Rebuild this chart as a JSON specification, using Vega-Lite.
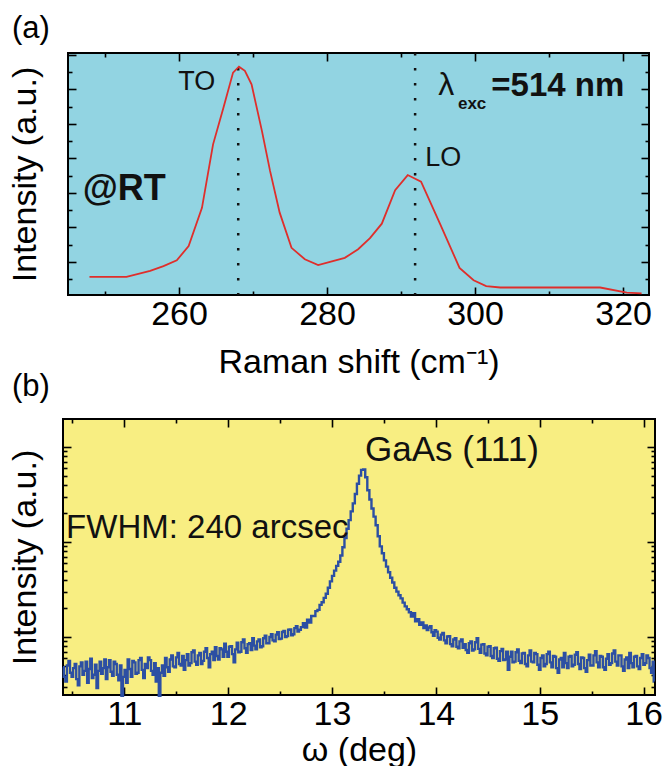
{
  "$schema": "https://vega.github.io/schema/vega-lite/v6.json",
  "background": "white",
  "padding": {"left": 7, "top": 11, "right": 5, "bottom": 0},
  "spacing": -10,
  "config": {
    "font": "Liberation Sans",
    "axis": {"domain": false, "grid": false, "tickColor": "#000", "tickWidth": 1.6, "labelColor": "#000", "titleColor": "#000", "labelFont": "Liberation Sans", "titleFont": "Liberation Sans", "labelFontSize": 34, "titleFontSize": 34, "titleFontWeight": "normal", "labelFlush": false, "labelOverlap": false},
    "title": {"font": "Liberation Sans", "fontWeight": "normal", "fontSize": 31, "color": "#000", "anchor": "start"}
  },
  "datasets": {
    "raman": [
      {"s": 247.9, "i": 0.57}, {"s": 252.9, "i": 0.57}, {"s": 256.1, "i": 0.74}, {"s": 257.9, "i": 0.88},
      {"s": 259.7, "i": 1.05}, {"s": 261.3, "i": 1.46}, {"s": 263.1, "i": 2.57}, {"s": 264.6, "i": 4.41},
      {"s": 266.0, "i": 5.47}, {"s": 267.3, "i": 6.49}, {"s": 268.1, "i": 6.66}, {"s": 268.9, "i": 6.54},
      {"s": 269.8, "i": 6.15}, {"s": 271.2, "i": 4.80}, {"s": 272.3, "i": 3.64}, {"s": 273.6, "i": 2.43},
      {"s": 275.2, "i": 1.41}, {"s": 277.0, "i": 1.08}, {"s": 278.8, "i": 0.91}, {"s": 280.4, "i": 1.00},
      {"s": 282.4, "i": 1.12}, {"s": 284.2, "i": 1.37}, {"s": 285.8, "i": 1.69}, {"s": 287.4, "i": 2.11},
      {"s": 289.2, "i": 3.08}, {"s": 290.9, "i": 3.52}, {"s": 292.7, "i": 3.33}, {"s": 295.3, "i": 2.09},
      {"s": 297.9, "i": 0.83}, {"s": 299.8, "i": 0.47}, {"s": 301.5, "i": 0.30}, {"s": 303.4, "i": 0.26},
      {"s": 316.9, "i": 0.26}, {"s": 320.5, "i": 0.11}, {"s": 322.5, "i": 0.09}
    ],
    "xrd": [
      {"w": 10.41, "c": 48}, {"w": 10.425, "c": 38}, {"w": 10.44, "c": 34}, {"w": 10.455, "c": 50},
      {"w": 10.47, "c": 56}, {"w": 10.485, "c": 42}, {"w": 10.50, "c": 38}, {"w": 10.515, "c": 47},
      {"w": 10.53, "c": 52}, {"w": 10.545, "c": 36}, {"w": 10.56, "c": 31}, {"w": 10.575, "c": 49},
      {"w": 10.59, "c": 54}, {"w": 10.605, "c": 40}, {"w": 10.62, "c": 44}, {"w": 10.635, "c": 55},
      {"w": 10.65, "c": 33}, {"w": 10.665, "c": 46}, {"w": 10.68, "c": 59}, {"w": 10.695, "c": 37},
      {"w": 10.71, "c": 40}, {"w": 10.725, "c": 51}, {"w": 10.74, "c": 29}, {"w": 10.755, "c": 44},
      {"w": 10.77, "c": 55}, {"w": 10.785, "c": 41}, {"w": 10.80, "c": 47}, {"w": 10.815, "c": 58},
      {"w": 10.83, "c": 36}, {"w": 10.845, "c": 48}, {"w": 10.86, "c": 57}, {"w": 10.875, "c": 43},
      {"w": 10.89, "c": 39}, {"w": 10.905, "c": 55}, {"w": 10.92, "c": 52}, {"w": 10.935, "c": 40},
      {"w": 10.95, "c": 35}, {"w": 10.965, "c": 50}, {"w": 10.98, "c": 24}, {"w": 10.995, "c": 38},
      {"w": 11.01, "c": 45}, {"w": 11.025, "c": 33}, {"w": 11.04, "c": 58}, {"w": 11.055, "c": 46},
      {"w": 11.07, "c": 38}, {"w": 11.085, "c": 56}, {"w": 11.10, "c": 54}, {"w": 11.115, "c": 41},
      {"w": 11.13, "c": 42}, {"w": 11.145, "c": 57}, {"w": 11.16, "c": 60}, {"w": 11.175, "c": 45},
      {"w": 11.19, "c": 37}, {"w": 11.205, "c": 52}, {"w": 11.22, "c": 47}, {"w": 11.235, "c": 61},
      {"w": 11.25, "c": 57}, {"w": 11.265, "c": 44}, {"w": 11.28, "c": 40}, {"w": 11.295, "c": 53},
      {"w": 11.31, "c": 34}, {"w": 11.325, "c": 47}, {"w": 11.34, "c": 24}, {"w": 11.355, "c": 42},
      {"w": 11.37, "c": 50}, {"w": 11.385, "c": 39}, {"w": 11.40, "c": 60}, {"w": 11.415, "c": 48},
      {"w": 11.43, "c": 43}, {"w": 11.445, "c": 58}, {"w": 11.46, "c": 64}, {"w": 11.475, "c": 49},
      {"w": 11.49, "c": 48}, {"w": 11.505, "c": 61}, {"w": 11.52, "c": 68}, {"w": 11.535, "c": 52},
      {"w": 11.55, "c": 50}, {"w": 11.565, "c": 63}, {"w": 11.58, "c": 45}, {"w": 11.595, "c": 57},
      {"w": 11.61, "c": 66}, {"w": 11.625, "c": 50}, {"w": 11.64, "c": 53}, {"w": 11.655, "c": 69},
      {"w": 11.67, "c": 72}, {"w": 11.685, "c": 55}, {"w": 11.70, "c": 51}, {"w": 11.715, "c": 64},
      {"w": 11.73, "c": 68}, {"w": 11.745, "c": 52}, {"w": 11.76, "c": 56}, {"w": 11.775, "c": 70},
      {"w": 11.79, "c": 76}, {"w": 11.805, "c": 60}, {"w": 11.82, "c": 48}, {"w": 11.835, "c": 66},
      {"w": 11.85, "c": 70}, {"w": 11.865, "c": 57}, {"w": 11.88, "c": 78}, {"w": 11.895, "c": 63},
      {"w": 11.91, "c": 58}, {"w": 11.925, "c": 76}, {"w": 11.94, "c": 74}, {"w": 11.955, "c": 62},
      {"w": 11.97, "c": 85}, {"w": 11.985, "c": 70}, {"w": 12.00, "c": 62}, {"w": 12.015, "c": 79},
      {"w": 12.03, "c": 80}, {"w": 12.045, "c": 66}, {"w": 12.06, "c": 54}, {"w": 12.075, "c": 74},
      {"w": 12.09, "c": 87}, {"w": 12.105, "c": 69}, {"w": 12.12, "c": 70}, {"w": 12.135, "c": 88},
      {"w": 12.15, "c": 94}, {"w": 12.165, "c": 76}, {"w": 12.18, "c": 68}, {"w": 12.195, "c": 84},
      {"w": 12.21, "c": 86}, {"w": 12.225, "c": 73}, {"w": 12.24, "c": 97}, {"w": 12.255, "c": 81},
      {"w": 12.27, "c": 74}, {"w": 12.285, "c": 90}, {"w": 12.30, "c": 94}, {"w": 12.315, "c": 78},
      {"w": 12.33, "c": 80}, {"w": 12.345, "c": 97}, {"w": 12.36, "c": 103}, {"w": 12.375, "c": 86},
      {"w": 12.39, "c": 86}, {"w": 12.405, "c": 100}, {"w": 12.42, "c": 107}, {"w": 12.435, "c": 92},
      {"w": 12.45, "c": 90}, {"w": 12.465, "c": 106}, {"w": 12.48, "c": 112}, {"w": 12.495, "c": 95},
      {"w": 12.51, "c": 96}, {"w": 12.525, "c": 113}, {"w": 12.54, "c": 116}, {"w": 12.555, "c": 100},
      {"w": 12.57, "c": 102}, {"w": 12.585, "c": 119}, {"w": 12.60, "c": 120}, {"w": 12.615, "c": 104},
      {"w": 12.63, "c": 107}, {"w": 12.645, "c": 124}, {"w": 12.66, "c": 130}, {"w": 12.675, "c": 114},
      {"w": 12.69, "c": 119}, {"w": 12.71, "c": 127}, {"w": 12.73, "c": 140}, {"w": 12.75, "c": 126},
      {"w": 12.77, "c": 152}, {"w": 12.79, "c": 142}, {"w": 12.81, "c": 167}, {"w": 12.83, "c": 166},
      {"w": 12.85, "c": 187}, {"w": 12.87, "c": 193}, {"w": 12.89, "c": 218}, {"w": 12.91, "c": 232},
      {"w": 12.93, "c": 258}, {"w": 12.95, "c": 285}, {"w": 12.97, "c": 330}, {"w": 12.99, "c": 385},
      {"w": 13.01, "c": 440}, {"w": 13.03, "c": 500}, {"w": 13.05, "c": 560}, {"w": 13.07, "c": 620},
      {"w": 13.09, "c": 720}, {"w": 13.11, "c": 880}, {"w": 13.13, "c": 1100}, {"w": 13.15, "c": 1380},
      {"w": 13.17, "c": 1700}, {"w": 13.19, "c": 2100}, {"w": 13.21, "c": 2550}, {"w": 13.23, "c": 3200},
      {"w": 13.25, "c": 4100}, {"w": 13.27, "c": 5000}, {"w": 13.29, "c": 5750}, {"w": 13.31, "c": 5800},
      {"w": 13.33, "c": 4800}, {"w": 13.35, "c": 3500}, {"w": 13.37, "c": 2800}, {"w": 13.39, "c": 2250},
      {"w": 13.41, "c": 1850}, {"w": 13.43, "c": 1500}, {"w": 13.45, "c": 1150}, {"w": 13.47, "c": 900},
      {"w": 13.49, "c": 760}, {"w": 13.51, "c": 640}, {"w": 13.53, "c": 550}, {"w": 13.55, "c": 480},
      {"w": 13.57, "c": 420}, {"w": 13.59, "c": 375}, {"w": 13.61, "c": 330}, {"w": 13.63, "c": 300},
      {"w": 13.65, "c": 275}, {"w": 13.67, "c": 255}, {"w": 13.69, "c": 230}, {"w": 13.71, "c": 210},
      {"w": 13.73, "c": 196}, {"w": 13.75, "c": 182}, {"w": 13.77, "c": 164}, {"w": 13.79, "c": 178},
      {"w": 13.81, "c": 146}, {"w": 13.83, "c": 154}, {"w": 13.85, "c": 134}, {"w": 13.87, "c": 142},
      {"w": 13.89, "c": 124}, {"w": 13.905, "c": 132}, {"w": 13.92, "c": 118}, {"w": 13.935, "c": 126},
      {"w": 13.95, "c": 130}, {"w": 13.965, "c": 112}, {"w": 13.98, "c": 103}, {"w": 13.995, "c": 118},
      {"w": 14.01, "c": 114}, {"w": 14.025, "c": 98}, {"w": 14.04, "c": 94}, {"w": 14.055, "c": 106},
      {"w": 14.07, "c": 110}, {"w": 14.085, "c": 92}, {"w": 14.10, "c": 86}, {"w": 14.115, "c": 101},
      {"w": 14.13, "c": 102}, {"w": 14.145, "c": 84}, {"w": 14.16, "c": 80}, {"w": 14.175, "c": 94},
      {"w": 14.19, "c": 97}, {"w": 14.205, "c": 79}, {"w": 14.22, "c": 76}, {"w": 14.235, "c": 90},
      {"w": 14.25, "c": 94}, {"w": 14.265, "c": 77}, {"w": 14.28, "c": 84}, {"w": 14.295, "c": 73},
      {"w": 14.31, "c": 68}, {"w": 14.325, "c": 86}, {"w": 14.34, "c": 90}, {"w": 14.355, "c": 72},
      {"w": 14.37, "c": 74}, {"w": 14.385, "c": 88}, {"w": 14.40, "c": 97}, {"w": 14.415, "c": 75},
      {"w": 14.43, "c": 68}, {"w": 14.445, "c": 83}, {"w": 14.46, "c": 84}, {"w": 14.475, "c": 67},
      {"w": 14.49, "c": 64}, {"w": 14.505, "c": 79}, {"w": 14.52, "c": 80}, {"w": 14.535, "c": 63},
      {"w": 14.55, "c": 60}, {"w": 14.565, "c": 76}, {"w": 14.58, "c": 77}, {"w": 14.595, "c": 59},
      {"w": 14.61, "c": 56}, {"w": 14.625, "c": 71}, {"w": 14.64, "c": 75}, {"w": 14.655, "c": 57},
      {"w": 14.67, "c": 58}, {"w": 14.685, "c": 70}, {"w": 14.70, "c": 45}, {"w": 14.715, "c": 62},
      {"w": 14.73, "c": 70}, {"w": 14.745, "c": 54}, {"w": 14.76, "c": 55}, {"w": 14.775, "c": 69},
      {"w": 14.79, "c": 74}, {"w": 14.805, "c": 56}, {"w": 14.82, "c": 53}, {"w": 14.835, "c": 67},
      {"w": 14.85, "c": 68}, {"w": 14.865, "c": 52}, {"w": 14.88, "c": 49}, {"w": 14.895, "c": 64},
      {"w": 14.91, "c": 72}, {"w": 14.925, "c": 55}, {"w": 14.94, "c": 54}, {"w": 14.955, "c": 68},
      {"w": 14.97, "c": 66}, {"w": 14.985, "c": 51}, {"w": 15.00, "c": 45}, {"w": 15.015, "c": 60},
      {"w": 15.03, "c": 64}, {"w": 15.045, "c": 49}, {"w": 15.06, "c": 52}, {"w": 15.075, "c": 66},
      {"w": 15.09, "c": 70}, {"w": 15.105, "c": 54}, {"w": 15.12, "c": 48}, {"w": 15.135, "c": 63},
      {"w": 15.15, "c": 62}, {"w": 15.165, "c": 47}, {"w": 15.18, "c": 42}, {"w": 15.195, "c": 58},
      {"w": 15.21, "c": 60}, {"w": 15.225, "c": 48}, {"w": 15.24, "c": 68}, {"w": 15.255, "c": 53},
      {"w": 15.27, "c": 47}, {"w": 15.285, "c": 62}, {"w": 15.30, "c": 63}, {"w": 15.315, "c": 49},
      {"w": 15.33, "c": 51}, {"w": 15.345, "c": 65}, {"w": 15.36, "c": 69}, {"w": 15.375, "c": 52},
      {"w": 15.39, "c": 46}, {"w": 15.405, "c": 61}, {"w": 15.42, "c": 60}, {"w": 15.435, "c": 47},
      {"w": 15.45, "c": 43}, {"w": 15.465, "c": 57}, {"w": 15.48, "c": 65}, {"w": 15.495, "c": 50},
      {"w": 15.51, "c": 50}, {"w": 15.525, "c": 64}, {"w": 15.54, "c": 71}, {"w": 15.555, "c": 54},
      {"w": 15.57, "c": 48}, {"w": 15.585, "c": 63}, {"w": 15.60, "c": 62}, {"w": 15.615, "c": 48},
      {"w": 15.63, "c": 45}, {"w": 15.645, "c": 59}, {"w": 15.66, "c": 66}, {"w": 15.675, "c": 51},
      {"w": 15.69, "c": 53}, {"w": 15.705, "c": 67}, {"w": 15.72, "c": 72}, {"w": 15.735, "c": 55},
      {"w": 15.75, "c": 50}, {"w": 15.765, "c": 64}, {"w": 15.78, "c": 64}, {"w": 15.795, "c": 49},
      {"w": 15.81, "c": 44}, {"w": 15.825, "c": 58}, {"w": 15.84, "c": 61}, {"w": 15.855, "c": 47},
      {"w": 15.87, "c": 68}, {"w": 15.885, "c": 53}, {"w": 15.90, "c": 48}, {"w": 15.915, "c": 62},
      {"w": 15.93, "c": 63}, {"w": 15.945, "c": 49}, {"w": 15.96, "c": 46}, {"w": 15.975, "c": 60},
      {"w": 15.99, "c": 66}, {"w": 16.005, "c": 51}, {"w": 16.02, "c": 53}, {"w": 16.035, "c": 64},
      {"w": 16.05, "c": 60}, {"w": 16.065, "c": 47}, {"w": 16.08, "c": 42}, {"w": 16.095, "c": 55},
      {"w": 16.10, "c": 34}
    ]
  },
  "vconcat": [
    {
      "bounds": "flush",
      "spacing": 4,
      "hconcat": [
        {
          "width": 1,
          "height": 242,
          "data": {"values": [{"v": 0}]},
          "mark": {"type": "point", "opacity": 0},
          "view": {"stroke": null, "fill": null}
        },
        {
          "width": 581,
          "height": 242,
          "title": {"text": "(a)", "anchor": "start", "frame": "group", "dx": -56, "offset": -24, "baseline": "bottom", "fontSize": 31},
          "view": {"fill": "#92d4e2", "stroke": "#000", "strokeWidth": 2},
          "resolve": {"axis": {"x": "independent", "y": "independent"}},
          "layer": [
            {
              "data": {"values": [{"s": 268.0}, {"s": 291.9}]},
              "mark": {"type": "rule", "color": "#111", "strokeWidth": 2.5, "strokeDash": [2.5, 12.5]},
              "encoding": {"x": {"field": "s", "type": "quantitative", "scale": {"domain": [245, 323.5], "nice": false, "zero": false}, "axis": null}}
            },
            {
              "data": {"name": "raman"},
              "mark": {"type": "line", "color": "#df2e2b", "strokeWidth": 1.8},
              "encoding": {
                "x": {"field": "s", "type": "quantitative", "scale": {"domain": [245, 323.5], "nice": false, "zero": false},
                      "axis": {"orient": "bottom", "values": [260, 280, 300, 320], "format": "d", "tickSize": -8, "labelPadding": 10, "title": "Raman shift (cm⁻¹)", "titlePadding": 14}},
                "y": {"field": "i", "type": "quantitative", "scale": {"domain": [0.043, 7.058], "nice": false, "zero": false},
                      "axis": {"orient": "left", "values": [1, 2, 3, 4, 5, 6, 7], "labels": false, "tickSize": -8, "title": "Intensity (a.u.)", "titlePadding": 25}}
              }
            },
            {
              "data": {"name": "raman"},
              "mark": {"type": "line", "opacity": 0},
              "encoding": {
                "x": {"field": "s", "type": "quantitative", "scale": {"domain": [245, 323.5], "nice": false, "zero": false},
                      "axis": {"orient": "bottom", "values": [250, 270, 290, 310], "labels": false, "tickSize": -4, "title": null}},
                "y": {"field": "i", "type": "quantitative", "scale": {"domain": [0.043, 7.058], "nice": false, "zero": false},
                      "axis": {"orient": "left", "values": [0.5, 1.5, 2.5, 3.5, 4.5, 5.5, 6.5], "labels": false, "tickSize": -4, "title": null}}
              }
            },
            {
              "data": {"name": "raman"},
              "mark": {"type": "line", "opacity": 0},
              "encoding": {
                "x": {"field": "s", "type": "quantitative", "scale": {"domain": [245, 323.5], "nice": false, "zero": false},
                      "axis": {"orient": "top", "values": [260, 280, 300, 320], "labels": false, "tickSize": -8, "title": null}},
                "y": {"field": "i", "type": "quantitative", "scale": {"domain": [0.043, 7.058], "nice": false, "zero": false},
                      "axis": {"orient": "right", "values": [1, 2, 3, 4, 5, 6, 7], "labels": false, "tickSize": -8, "title": null}}
              }
            },
            {
              "data": {"name": "raman"},
              "mark": {"type": "line", "opacity": 0},
              "encoding": {
                "x": {"field": "s", "type": "quantitative", "scale": {"domain": [245, 323.5], "nice": false, "zero": false},
                      "axis": {"orient": "top", "values": [250, 270, 290, 310], "labels": false, "tickSize": -4, "title": null}},
                "y": {"field": "i", "type": "quantitative", "scale": {"domain": [0.043, 7.058], "nice": false, "zero": false},
                      "axis": {"orient": "right", "values": [0.5, 1.5, 2.5, 3.5, 4.5, 5.5, 6.5], "labels": false, "tickSize": -4, "title": null}}
              }
            },
            {
              "data": {"values": [{"s": 262.4, "i": 6.22, "t": "TO"}, {"s": 295.7, "i": 4.01, "t": "LO"}]},
              "mark": {"type": "text", "fontSize": 27, "align": "center", "baseline": "middle", "color": "#111"},
              "encoding": {
                "x": {"field": "s", "type": "quantitative", "axis": null},
                "y": {"field": "i", "type": "quantitative", "axis": null},
                "text": {"field": "t"}
              }
            },
            {
              "data": {"values": [{"s": 252.6, "i": 3.12, "t": "@RT"}]},
              "mark": {"type": "text", "fontSize": 36, "fontWeight": "bold", "align": "center", "baseline": "middle", "color": "#111"},
              "encoding": {
                "x": {"field": "s", "type": "quantitative", "axis": null},
                "y": {"field": "i", "type": "quantitative", "axis": null},
                "text": {"field": "t"}
              }
            },
            {
              "data": {"values": [{"s": 296.1, "i": 6.13, "t": "λ"}]},
              "mark": {"type": "text", "fontSize": 32, "align": "center", "baseline": "middle", "color": "#111"},
              "encoding": {
                "x": {"field": "s", "type": "quantitative", "axis": null},
                "y": {"field": "i", "type": "quantitative", "axis": null},
                "text": {"field": "t"}
              }
            },
            {
              "data": {"values": [{"s": 299.6, "i": 5.58, "t": "exc"}]},
              "mark": {"type": "text", "fontSize": 17, "fontWeight": "bold", "align": "center", "baseline": "middle", "color": "#111"},
              "encoding": {
                "x": {"field": "s", "type": "quantitative", "axis": null},
                "y": {"field": "i", "type": "quantitative", "axis": null},
                "text": {"field": "t"}
              }
            },
            {
              "data": {"values": [{"s": 302.2, "i": 6.10, "t": "=514 nm"}]},
              "mark": {"type": "text", "fontSize": 33, "fontWeight": "bold", "align": "left", "baseline": "middle", "color": "#111"},
              "encoding": {
                "x": {"field": "s", "type": "quantitative", "axis": null},
                "y": {"field": "i", "type": "quantitative", "axis": null},
                "text": {"field": "t"}
              }
            }
          ]
        }
      ]
    },
    {
      "width": 592,
      "height": 276,
      "title": {"text": "(b)", "anchor": "start", "frame": "group", "dx": -51, "offset": -16, "baseline": "bottom", "fontSize": 31},
      "view": {"fill": "#f8ee82", "stroke": "#000", "strokeWidth": 2},
      "resolve": {"axis": {"x": "independent", "y": "independent"}},
      "layer": [
        {
          "data": {"name": "xrd"},
          "mark": {"type": "line", "color": "#2c4fa3", "strokeWidth": 2.4, "interpolate": "step"},
          "encoding": {
            "x": {"field": "w", "type": "quantitative", "scale": {"domain": [10.41, 16.11], "nice": false, "zero": false},
                  "axis": {"orient": "bottom", "values": [11, 12, 13, 14, 15, 16], "format": "d", "tickSize": -8, "labelPadding": 10, "title": "ω (deg)", "titlePadding": 2}},
            "y": {"field": "c", "type": "quantitative", "scale": {"type": "log", "domain": [24.5, 19720], "nice": false},
                  "axis": {"orient": "left", "values": [100, 1000, 10000], "labels": false, "tickSize": -8, "title": "Intensity (a.u.)", "titlePadding": 20}}
          }
        },
        {
          "data": {"name": "xrd"},
          "mark": {"type": "line", "opacity": 0},
          "encoding": {
            "x": {"field": "w", "type": "quantitative", "scale": {"domain": [10.41, 16.11], "nice": false, "zero": false},
                  "axis": {"orient": "bottom", "values": [10.5, 11.5, 12.5, 13.5, 14.5, 15.5], "labels": false, "tickSize": -4, "title": null}},
            "y": {"field": "c", "type": "quantitative", "scale": {"type": "log", "domain": [24.5, 19720], "nice": false},
                  "axis": {"orient": "left", "values": [30, 40, 50, 60, 70, 80, 90, 200, 300, 400, 500, 600, 700, 800, 900, 2000, 3000, 4000, 5000, 6000, 7000, 8000, 9000], "labels": false, "tickSize": -4, "title": null}}
          }
        },
        {
          "data": {"name": "xrd"},
          "mark": {"type": "line", "opacity": 0},
          "encoding": {
            "x": {"field": "w", "type": "quantitative", "scale": {"domain": [10.41, 16.11], "nice": false, "zero": false},
                  "axis": {"orient": "top", "values": [11, 12, 13, 14, 15, 16], "labels": false, "tickSize": -8, "title": null}},
            "y": {"field": "c", "type": "quantitative", "scale": {"type": "log", "domain": [24.5, 19720], "nice": false},
                  "axis": {"orient": "right", "values": [100, 1000, 10000], "labels": false, "tickSize": -8, "title": null}}
          }
        },
        {
          "data": {"name": "xrd"},
          "mark": {"type": "line", "opacity": 0},
          "encoding": {
            "x": {"field": "w", "type": "quantitative", "scale": {"domain": [10.41, 16.11], "nice": false, "zero": false},
                  "axis": {"orient": "top", "values": [10.5, 11.5, 12.5, 13.5, 14.5, 15.5], "labels": false, "tickSize": -4, "title": null}},
            "y": {"field": "c", "type": "quantitative", "scale": {"type": "log", "domain": [24.5, 19720], "nice": false},
                  "axis": {"orient": "right", "values": [30, 40, 50, 60, 70, 80, 90, 200, 300, 400, 500, 600, 700, 800, 900, 2000, 3000, 4000, 5000, 6000, 7000, 8000, 9000], "labels": false, "tickSize": -4, "title": null}}
          }
        },
        {
          "data": {"values": [{"w": 13.318, "c": 9330, "t": "GaAs (111)"}]},
          "mark": {"type": "text", "fontSize": 35, "align": "left", "baseline": "middle", "color": "#111"},
          "encoding": {
            "x": {"field": "w", "type": "quantitative", "axis": null},
            "y": {"field": "c", "type": "quantitative", "axis": null},
            "text": {"field": "t"}
          }
        },
        {
          "data": {"values": [{"w": 10.44, "c": 1403, "t": "FWHM: 240 arcsec"}]},
          "mark": {"type": "text", "fontSize": 33, "align": "left", "baseline": "middle", "color": "#111"},
          "encoding": {
            "x": {"field": "w", "type": "quantitative", "axis": null},
            "y": {"field": "c", "type": "quantitative", "axis": null},
            "text": {"field": "t"}
          }
        }
      ]
    }
  ]
}
